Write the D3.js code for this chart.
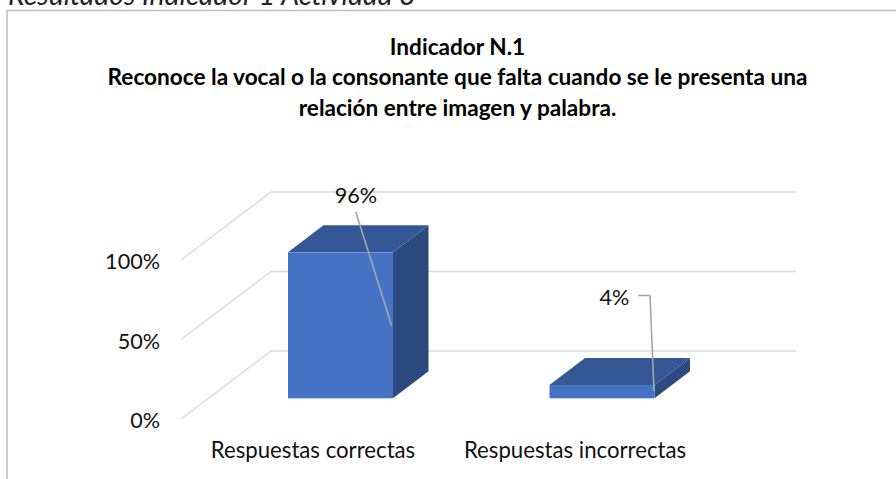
<!DOCTYPE html>
<html><head><meta charset="utf-8">
<style>html,body{margin:0;padding:0;background:#fff;overflow:hidden}svg{display:block}text{font-family:Lato,"Noto Sans",sans-serif;fill:#111}</style>
<script src="https://cdn.jsdelivr.net/npm/d3@7"></script></head>
<body><svg id="c" width="896" height="479"></svg>
<script>
const categories = ["Respuestas correctas", "Respuestas incorrectas"];
const values = [96, 4];
const valueLabels = ["96%", "4%"];
const axisTicks = [0, 50, 100];
const titleLines = ["Indicador N.1", "Reconoce la vocal o la consonante que falta cuando se le presenta una", "relación entre imagen y palabra."];
const caption = "Resultados Indicador 1 Actividad 3";

const svg = d3.select("#c");
const grid = "#d9d9d9";
// frame + caption
svg.append("text").attr("x", 8).attr("y", 5).attr("font-size", 28.4).attr("font-style", "italic").style("fill", "#222").text(caption);
svg.append("path").attr("d", "M7,479V10.5H896").attr("fill", "none").attr("stroke", "#bfbfbf").attr("stroke-width", 1.5);
// title
svg.append("g").selectAll("text").data(titleLines).join("text")
  .attr("x", 457.5).attr("y", (d, i) => 54.5 + i * 30.5).attr("text-anchor", "middle")
  .attr("font-size", 22.6).attr("font-weight", 700).style("fill", "#000").text(d => d);
// value axis: front wall
const yFront = d3.scaleLinear().domain([0, 100]).range([419, 260]);
const depth = { dx: 90, dy: -68 };
const frontX = 181, rightX = 796;
const g = svg.append("g");
axisTicks.forEach(t => {
  const y = yFront(t);
  g.append("path").attr("d", `M${frontX},${y}L${frontX + depth.dx},${y + depth.dy}H${rightX}`)
    .attr("fill", "none").attr("stroke", grid).attr("stroke-width", 1.3);
  g.append("text").attr("x", 160).attr("y", y + 9).attr("text-anchor", "end").attr("font-size", 21.6).text(t + "%");
});
// bars
const x = d3.scaleBand().domain(categories).range([288, 654.5]).paddingInner(0.5985).paddingOuter(0);
const yBar = d3.scaleLinear().domain([0, 100]).range([390.8, 246.6]);
const base = 398.3, bd = { dx: 35.5, dy: -27 };
const bars = svg.append("g").selectAll("g").data(values).join("g");
bars.each(function (v, i) {
  const s = d3.select(this), l = x(categories[i]), w = x.bandwidth(), r = l + w, t = yBar(v);
  s.append("path").attr("fill", "#2c4a80").attr("d", `M${r},${t}L${r + bd.dx},${t + bd.dy}V${base + bd.dy}L${r},${base}Z`);
  s.append("path").attr("fill", "#345796").attr("d", `M${l},${t}L${l + bd.dx},${t + bd.dy}H${r + bd.dx}L${r},${t}Z`);
  s.append("rect").attr("x", l).attr("y", t).attr("width", w).attr("height", base - t).attr("fill", "#4472c4");
});
// category labels
svg.append("g").selectAll("text").data(categories).join("text")
  .attr("x", (d, i) => [313, 575][i]).attr("y", 458).attr("text-anchor", "middle").attr("font-size", 22.2).text(d => d);
// leaders + data labels
const lab = [{ x: 356, y: 203, path: "M355.7,211.7L391.7,325.7" }, { x: 614.5, y: 305, path: "M638,295.5H650L654,391" }];
lab.forEach((d, i) => {
  svg.append("path").attr("d", d.path).attr("fill", "none").attr("stroke", "#a6a6a6").attr("stroke-width", 1.6);
  svg.append("text").attr("x", d.x).attr("y", d.y).attr("text-anchor", "middle").attr("font-size", 21.6).text(valueLabels[i]);
});
</script></body></html>
